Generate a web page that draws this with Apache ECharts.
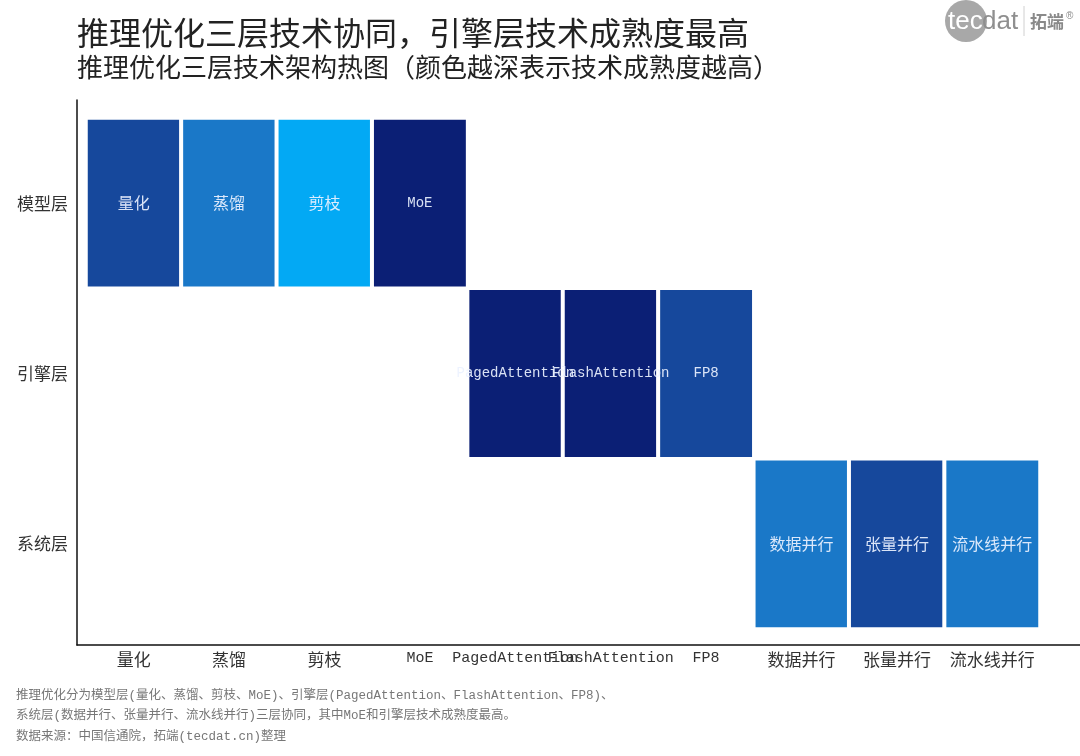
<!DOCTYPE html>
<html>
<head>
<meta charset="utf-8">
<script src="https://cdn.jsdelivr.net/npm/echarts@6/dist/echarts.min.js"></script>
<style>html,body{margin:0;padding:0;background:#fff}#c{width:1080px;height:756px}</style>
</head>
<body>
<div id="c"></div>
<script>
// ---- data ----
const techs = ['量化','蒸馏','剪枝','MoE','PagedAttention','FlashAttention','FP8','数据并行','张量并行','流水线并行'];
const layers = ['模型层','引擎层','系统层'];
const techLayer = [0,0,0,0,1,1,1,2,2,2];
const maturity = [3,2,1,4,4,4,3,2,3,2];
const levelColors = ['#03A9F4','#1A78C8','#16489C','#0B1F75'];
const levels = [1,2,3,4];
const titleText = '推理优化三层技术协同，引擎层技术成熟度最高';
const subTitleText = '推理优化三层技术架构热图（颜色越深表示技术成熟度越高）';
const footLines = [
  '推理优化分为模型层(量化、蒸馏、剪枝、MoE)、引擎层(PagedAttention、FlashAttention、FP8)、',
  '系统层(数据并行、张量并行、流水线并行)三层协同，其中MoE和引擎层技术成熟度最高。',
  '数据来源：中国信通院，拓端(tecdat.cn)整理'
];

const heatData = techs.map((t,i)=>[i, techLayer[i], maturity[i]]);
const isLatin = s => /^[\x00-\x7F]+$/.test(s);
const mixFmt = v => isLatin(v) ? '{en|'+v+'}' : '{zh|'+v+'}';

const chart = echarts.init(document.getElementById('c'));
chart.setOption({
  backgroundColor:'#fff',
  animation:false,
  title:[
    {text:titleText,left:77,top:17,padding:0,textStyle:{fontFamily:'Noto Sans CJK SC',fontSize:32,fontWeight:'normal',color:'#222'}},
    {text:subTitleText,left:77,top:54,padding:0,textStyle:{fontFamily:'Noto Sans CJK SC',fontSize:26,fontWeight:'normal',color:'#222'}},
    {text:footLines.join('\n'),left:16,top:685,padding:0,textStyle:{fontFamily:'"Liberation Mono","Noto Sans CJK SC"',fontSize:12.5,fontWeight:'normal',color:'#777',lineHeight:20.5}}
  ],
  grid:[
    {left:86,right:40,top:118,bottom:127},
    {left:77,right:0,top:100,bottom:111}
  ],
  xAxis:[
    {type:'category',data:techs,gridIndex:0,
     axisLine:{show:false},axisTick:{show:false},splitLine:{show:false},
     axisLabel:{interval:0,margin:22,color:'#333',formatter:mixFmt,
       rich:{zh:{fontFamily:'Noto Sans CJK SC',fontSize:17,color:'#333'},
             en:{fontFamily:'Liberation Mono',fontSize:15,color:'#333'}}}},
    {type:'value',gridIndex:1,min:0,max:1,
     axisLine:{show:true,lineStyle:{color:'#111',width:1.5}},axisTick:{show:false},axisLabel:{show:false},splitLine:{show:false}}
  ],
  yAxis:[
    {type:'category',data:layers,inverse:true,gridIndex:0,
     axisLine:{show:false},axisTick:{show:false},splitLine:{show:false},
     axisLabel:{margin:18,color:'#333',fontFamily:'Noto Sans CJK SC',fontSize:17}},
    {type:'value',gridIndex:1,min:0,max:1,
     axisLine:{show:true,lineStyle:{color:'#111',width:1.5}},axisTick:{show:false},axisLabel:{show:false},splitLine:{show:false}}
  ],
  visualMap:{type:'piecewise',show:false,dimension:2,seriesIndex:0,
    pieces:levels.map((v,i)=>({value:v,color:levelColors[i]}))},
  series:[{
    type:'heatmap',xAxisIndex:0,yAxisIndex:0,data:heatData,
    itemStyle:{borderColor:'#fff',borderWidth:4,borderRadius:2},
    label:{show:true,formatter:p=>mixFmt(techs[p.value[0]]),
      rich:{zh:{fontFamily:'Noto Sans CJK SC',fontSize:16,color:'rgba(235,242,255,0.92)'},
            en:{fontFamily:'Liberation Mono',fontSize:14,color:'rgba(235,242,255,0.92)'}}}
  }],
  graphic:[
    {type:'circle',shape:{cx:966,cy:21,r:21},style:{fill:'#a8a8a8'}},
    {type:'text',x:948,y:22,style:{text:'tec',fill:'#fff',font:'26px "Liberation Sans"',textVerticalAlign:'middle'}},
    {type:'text',x:982,y:22,style:{text:'dat',fill:'#8f8f8f',font:'26px "Liberation Sans"',textVerticalAlign:'middle'}},
    {type:'line',shape:{x1:1024,y1:6,x2:1024,y2:36},style:{stroke:'#d0d0d0',lineWidth:1}},
    {type:'text',x:1030,y:22,style:{text:'拓端',fill:'#8a8a8a',font:'bold 17px "Noto Sans CJK SC"',textVerticalAlign:'middle'}},
    {type:'text',x:1066,y:16,style:{text:'®',fill:'#8a8a8a',font:'10px "Liberation Sans"',textVerticalAlign:'middle'}}
  ]
});
</script>
</body>
</html>
